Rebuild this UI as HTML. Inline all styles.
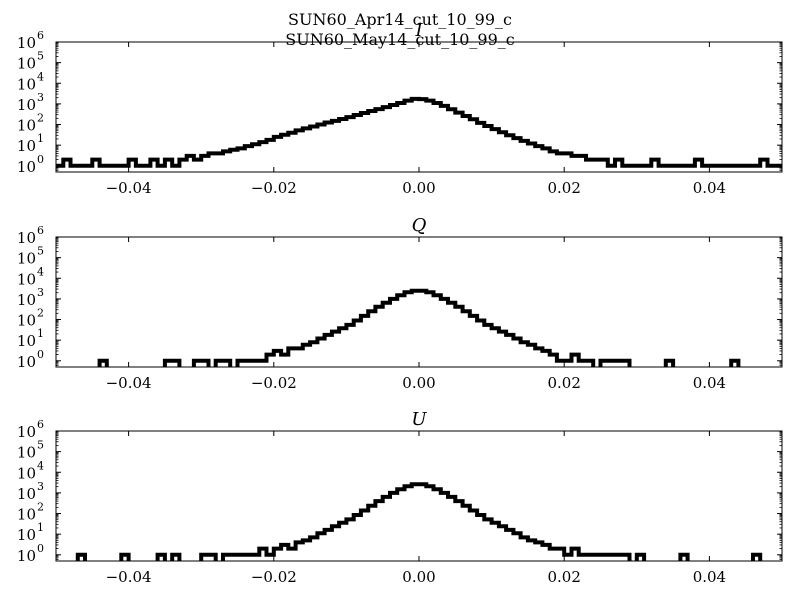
<!DOCTYPE html>
<html><head><meta charset="utf-8"><style>
body{margin:0;background:#fff}
svg{display:block;font-family:"DejaVu Serif","Liberation Serif",serif}
</style></head><body>
<svg id="fig" width="800" height="600" viewBox="0 0 800 600">
<rect width="800" height="600" fill="#fff"/>
<text x="400" y="25" font-size="16" text-anchor="middle">SUN60_Apr14_cut_10_99_c</text>
<text x="400" y="45" font-size="16" text-anchor="middle">SUN60_May14_cut_10_99_c</text>
</svg>
<script>
const xTicks=[-0.04,-0.02,0.00,0.02,0.04];
const xTickLabels=["\u22120.04","\u22120.02","0.00","0.02","0.04"];
const yExps=[0,1,2,3,4,5,6];
const panelTitles=["I","Q","U"];
const binStart=-0.05, binWidth=0.001;
const countsI=[1,2,1,1,1,2,1,1,1,1,2,1,1,2,1,2,1,2,3,2,
3,4,4,5,6,7,9,11,14,18,25,32,40,52,65,80,100,125,150,185,
230,290,360,450,560,700,880,1100,1450,1750,1700,1450,1100,800,550,380,260,180,120,85,
60,42,30,22,16,12,9,7,5,4,4,3,3,2,2,2,1,2,1,1,
1,1,2,1,1,1,1,1,2,1,1,1,1,1,1,1,1,2,1,1];
const countsQ=[0,0,0,0,0,0,1,0,0,0,0,0,0,0,0,1,1,0,0,1,
1,0,1,1,0,1,1,1,1,2,3,2,4,4,6,8,12,18,26,38,
55,90,150,250,420,650,1000,1500,2100,2500,2500,2100,1500,1000,650,420,250,150,90,55,
38,26,18,12,8,6,4,3,2,1,1,2,1,1,0,1,1,1,1,0,
0,0,0,0,1,0,0,0,0,0,0,0,0,1,0,0,0,0,0,0];
const countsU=[0,0,0,1,0,0,0,0,0,1,0,0,0,0,1,0,1,0,0,0,
1,1,0,1,1,1,1,1,2,1,2,3,2,4,5,7,11,16,24,36,
52,85,140,240,400,640,1000,1500,2100,2600,2600,2100,1500,1000,640,400,240,140,85,52,
36,24,16,11,7,5,4,3,2,2,1,2,1,1,1,1,1,1,1,0,
1,0,0,0,0,0,1,0,0,0,0,0,0,0,0,0,1,0,0,0];
const panelCounts=[countsI,countsQ,countsU];
const panelTops=[42,237,431];

const NS="http://www.w3.org/2000/svg";
const svg=document.getElementById('fig');
const L=56,R=782,H=130,xmin=-0.05,xmax=0.05,ymin=0.5,ymax=1e6;
function mk(t,a){const e=document.createElementNS(NS,t);for(const k in a)e.setAttribute(k,a[k]);return e;}
function xs(v){return L+(v-xmin)/(xmax-xmin)*(R-L);}
panelTops.forEach((top,p)=>{
  const bot=top+H;
  const ys=v=>bot-(Math.log10(v)-Math.log10(ymin))/(Math.log10(ymax)-Math.log10(ymin))*H;
  const g=mk('g',{});
  
  
  svg.appendChild(g);
  const cid='clip'+p;
  const cp=mk('clipPath',{id:cid});cp.appendChild(mk('rect',{x:L,y:top,width:R-L,height:H}));g.appendChild(cp);
  const c=panelCounts[p];let d='';
  for(let i=0;i<c.length;i++){
    const x0=xs(binStart+i*binWidth),x1=xs(binStart+(i+1)*binWidth);
    const y=c[i]>0?ys(c[i]):bot+10;
    d+=(i===0?'M':'L')+x0.toFixed(1)+','+y.toFixed(1)+'L'+x1.toFixed(1)+','+y.toFixed(1);
  }
  const path=mk('path',{d:d,fill:'none',stroke:'#000','stroke-width':4,'stroke-linejoin':'miter','clip-path':'url(#'+cid+')'});
  
  
  g.appendChild(path);
  const fr=mk('rect',{x:L,y:top,width:R-L,height:H,fill:'none',stroke:'#000','stroke-width':1});
  
  
  g.appendChild(fr);
  xTicks.forEach((v,i)=>{
    const x=xs(v);
    g.appendChild(mk('line',{x1:x,x2:x,y1:bot,y2:bot-5,stroke:'#000'}));
    g.appendChild(mk('line',{x1:x,x2:x,y1:top,y2:top+5,stroke:'#000'}));
    const t=mk('text',{x:x,y:bot+21,'font-size':15,'text-anchor':'middle'});
    t.textContent=xTickLabels[i];
    
    
    g.appendChild(t);
  });
  yExps.forEach(e=>{
    const y=ys(Math.pow(10,e));
    g.appendChild(mk('line',{x1:L,x2:L+5,y1:y,y2:y,stroke:'#000'}));
    g.appendChild(mk('line',{x1:R,x2:R-5,y1:y,y2:y,stroke:'#000'}));
    for(let m=2;m<10;m++){const ym=ys(m*Math.pow(10,e-1));if(ym<=bot&&ym>=top){
      g.appendChild(mk('line',{x1:L,x2:L+2.5,y1:ym,y2:ym,stroke:'#000','stroke-width':0.8}));
      g.appendChild(mk('line',{x1:R,x2:R-2.5,y1:ym,y2:ym,stroke:'#000','stroke-width':0.8}));}}
    const t=mk('text',{x:L-20,y:y+6,'font-size':15,'text-anchor':'end'});
    t.textContent='10';
    
    
    g.appendChild(t);
    const s=mk('text',{x:L-19,y:y-3,'font-size':11});
    s.textContent=String(e);
    
    
    g.appendChild(s);
  });
  const tt=mk('text',{x:419,y:top-6,'font-size':18,'font-style':'italic','text-anchor':'middle'});
  tt.textContent=panelTitles[p];
  
  
  g.appendChild(tt);
});
</script>
</body></html>
